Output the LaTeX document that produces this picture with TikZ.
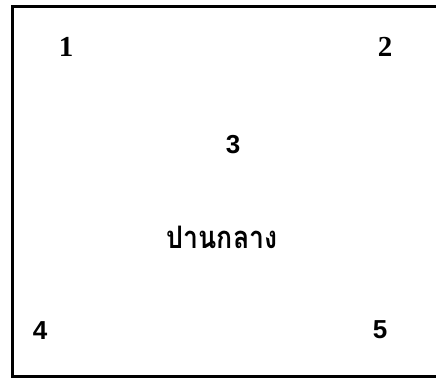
\documentclass[tikz,border=0pt]{standalone}
\usepackage{fontspec}
\setmainfont{Liberation Serif}
\newfontfamily\thaifont[Script=Thai,FakeStretch=0.86]{Loma}
\newfontfamily\numsans{Liberation Sans}
\begin{document}
\begin{tikzpicture}[x=1pt,y=-1pt,
  border/.style={line width=2.5pt,line cap=rect},
  serifnum/.style={font=\fontsize{29}{31}\selectfont\bfseries},
  sansnum/.style={font=\numsans\fontsize{26}{28}\selectfont\bfseries},
  thailabel/.style={font=\thaifont\fontsize{31}{36}\selectfont\bfseries}]
\useasboundingbox (0,0) rectangle (436,381);
\draw[border] (438,6.5) -- (12.5,6.5) -- (12.5,376.5) -- (438,376.5);
\node[serifnum] (n1) at (66,47) {1};
\node[serifnum] (n2) at (385,47) {2};
\node[sansnum] (n3) at (233,145) {3};
\node[thailabel] (mid) at (222,237) {ปานกลาง};
\node[sansnum] (n4) at (40,331) {4};
\node[sansnum] (n5) at (380,330) {5};
\end{tikzpicture}
\end{document}
